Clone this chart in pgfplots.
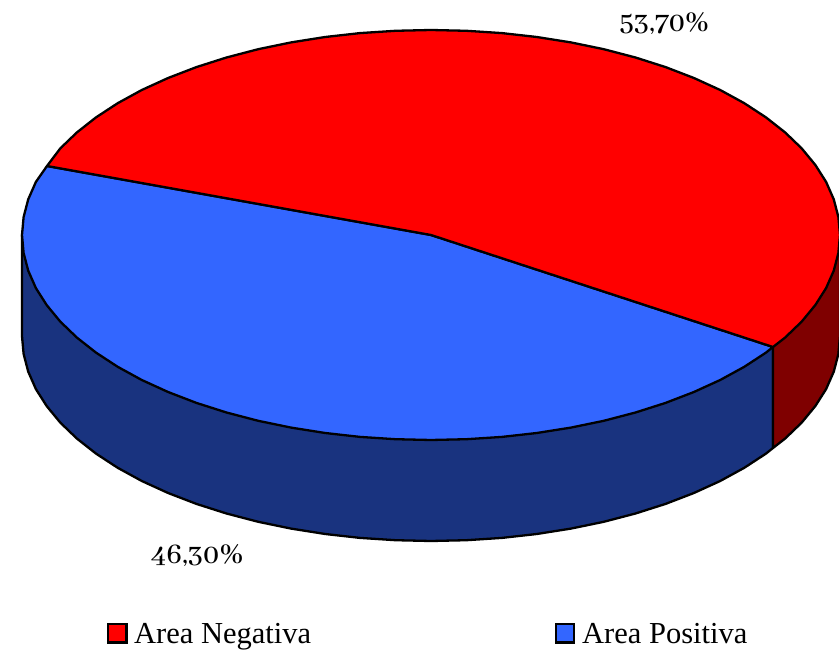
\documentclass[border=0pt]{standalone}
\usepackage{fontspec}
\setmainfont{Liberation Serif}
\newfontfamily\numfont{Abhaya Libre Medium}[Numbers=OldStyle]
\usepackage{pgfplots}
\pgfplotsset{compat=1.18}
\definecolor{redtop}{RGB}{255,0,0}
\definecolor{redside}{RGB}{127,0,0}
\definecolor{bluetop}{RGB}{51,102,255}
\definecolor{blueside}{RGB}{25,51,127}
\begin{document}
\begin{tikzpicture}
\useasboundingbox (0,0) rectangle (839pt,650pt);
\begin{axis}[
  scale only axis, width=839pt, height=650pt,
  xmin=0, xmax=839, ymin=0, ymax=650, y dir=reverse,
  axis lines=none, clip=true,
  every axis plot/.append style={draw=black, line width=2.3pt, line join=round},
]
% front wall, blue slice
\addplot[fill=blueside] coordinates {
(773,347)(773,448)(766,453.6)(744.3,467.8)(720.2,481)(693.9,493)(665.6,503.9)(635.5,513.5)(603.8,521.8)(570.9,528.6)(536.8,534)(502,537.9)(466.6,540.2)(431,541)(395.4,540.2)(360,537.9)(325.2,534)(291.1,528.6)(258.2,521.8)(226.5,513.5)(196.4,503.9)(168.1,493)(141.8,481)(117.7,467.8)(96,453.6)(76.8,438.5)(60.3,422.6)(46.7,406.1)(35.9,389.1)(28.2,371.6)(23.6,353.9)(22,336)(22,235)
} -- cycle;
% front wall, red slice
\addplot[fill=redside] coordinates {
(773,347)(773,448)(785.2,438.5)(801.7,422.6)(815.3,406.1)(826.1,389.1)(833.8,371.6)(838.4,353.9)(840,336)(840,235)
} -- cycle;
% top, blue slice
\addplot[fill=bluetop] coordinates {
(431,235)(773,347)(766,352.6)(744.3,366.8)(720.2,380)(693.9,392)(665.6,402.9)(635.5,412.5)(603.8,420.8)(570.9,427.6)(536.8,433)(502,436.9)(466.6,439.2)(431,440)(395.4,439.2)(360,436.9)(325.2,433)(291.1,427.6)(258.2,420.8)(226.5,412.5)(196.4,402.9)(168.1,392)(141.8,380)(117.7,366.8)(96,352.6)(76.8,337.5)(60.3,321.6)(46.7,305.1)(35.9,288.1)(28.2,270.6)(23.6,252.9)(22,235)(23.6,217.1)(28.2,199.4)(35.9,181.9)(47,166)
} -- cycle;
% top, red slice
\addplot[fill=redtop] coordinates {
(431,235)(47,166)(60.3,148.4)(76.8,132.5)(96,117.4)(117.7,103.2)(141.8,90)(168.1,78)(196.4,67.1)(226.5,57.5)(258.2,49.2)(291.1,42.4)(325.2,37)(360,33.1)(395.4,30.8)(431,30)(466.6,30.8)(502,33.1)(536.8,37)(570.9,42.4)(603.8,49.2)(635.5,57.5)(665.6,67.1)(693.9,78)(720.2,90)(744.3,103.2)(766,117.4)(785.2,132.5)(801.7,148.4)(815.3,164.9)(826.1,181.9)(833.8,199.4)(838.4,217.1)(840,235)(838.4,252.9)(833.8,270.6)(826.1,288.1)(815.3,305.1)(801.7,321.6)(785.2,337.5)(773,347)
} -- cycle;
% legend keys
\addplot[only marks, mark=square*, mark size=9.2pt, mark options={draw=black, line width=2.2pt, line join=miter, fill=redtop}] coordinates {(117.3,633.3)};
\addplot[only marks, mark=square*, mark size=9.2pt, mark options={draw=black, line width=2.2pt, line join=miter, fill=bluetop}] coordinates {(565,633.3)};
\node[anchor=base west, inner sep=0pt, font=\fontsize{30.5}{30.5}\selectfont] at (axis cs:134,643) {Area Negativa};
\node[anchor=base west, inner sep=0pt, font=\fontsize{30.5}{30.5}\selectfont] at (axis cs:582,643) {Area Positiva};
\node[anchor=base west, inner sep=0pt, font=\fontsize{31}{31}\selectfont\numfont] at (axis cs:619,32) {53,70\%};
\node[anchor=base west, inner sep=0pt, font=\fontsize{31}{31}\selectfont\numfont] at (axis cs:151,563) {46,30\%};
\end{axis}
\end{tikzpicture}
\end{document}
